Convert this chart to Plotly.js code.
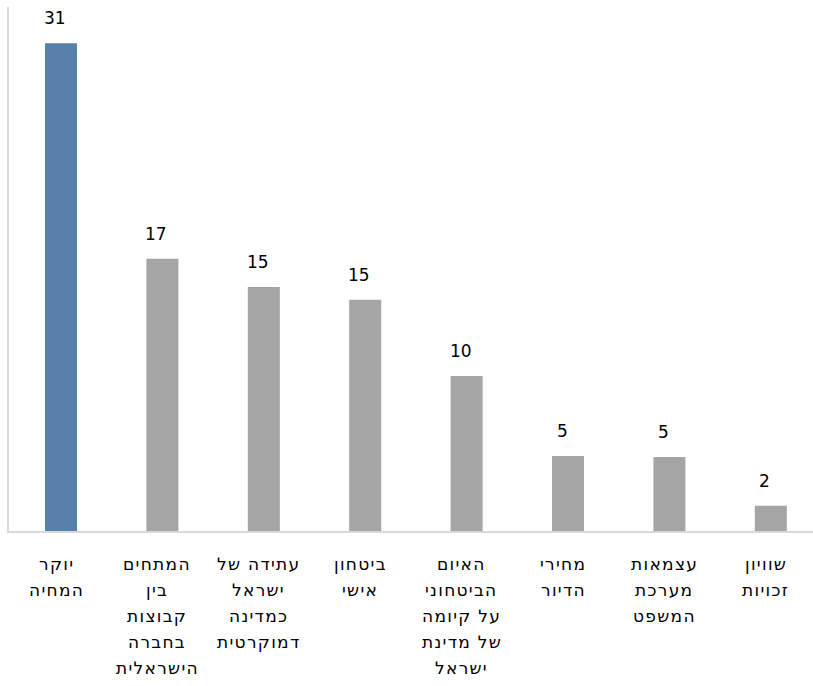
<!DOCTYPE html>
<html>
<head>
<meta charset="utf-8">
<script src="https://cdn.plot.ly/plotly-3.0.1.min.js"></script>
<style>
html,body{margin:0;padding:0;background:#fff;overflow:hidden}
text.annotation-text[style*="Noto"]{letter-spacing:1.3px}
</style>
</head>
<body>
<div id="chart" style="width:813px;height:686px"></div>
<script>
// Category labels (lines separated by "|")
const categories = [
  "יוקר|המחיה",
  "המתחים|בין|קבוצות|בחברה|הישראלית",
  "עתידה של|ישראל|כמדינה|דמוקרטית",
  "ביטחון|אישי",
  "האיום|הביטחוני|על קיומה|של מדינת|ישראל",
  "מחירי|הדיור",
  "עצמאות|מערכת|המשפט",
  "שוויון|זכויות"
];
// Bar values
const values = [31, 17.3, 15.5, 14.7, 9.85, 4.76, 4.7, 1.6];
// Data labels shown above the bars
const valueLabels = ["31", "17", "15", "15", "10", "5", "5", "2"];
const barColors = ["#5781a9", "#a5a5a5", "#a5a5a5", "#a5a5a5", "#a5a5a5", "#a5a5a5", "#a5a5a5", "#a5a5a5"];

const FONT = "DejaVu Sans, Verdana, sans-serif";
const HFONT = "DejaVu Sans, Noto Sans, sans-serif";

const trace = {
  type: "bar",
  x: categories,
  y: values,
  width: 0.3156,
  marker: {color: barColors, line: {width: 0}},
  hoverinfo: "none"
};

const annotations = [];
categories.forEach((c, i) => {
  annotations.push({
    x: c, y: values[i], xref: "x", yref: "y",
    text: valueLabels[i], showarrow: false,
    xanchor: "center", yanchor: "bottom", xshift: -6, yshift: 13,
    font: {family: FONT, size: 17, color: "#000"}
  });
  c.split("|").forEach((line, j) => {
    annotations.push({
      x: c, y: 0, xref: "x", yref: "paper",
      text: line, showarrow: false,
      xanchor: "center", yanchor: "top", xshift: -5, yshift: -21 - j * 26,
      font: {family: HFONT, size: 17, color: "#000"}
    });
  });
});

const layout = {
  width: 813, height: 686,
  margin: {l: 9, r: 0, t: 7, b: 155, pad: 0},
  paper_bgcolor: "#fff", plot_bgcolor: "#fff",
  showlegend: false,
  xaxis: {
    type: "category",
    range: [-0.513, 7.416],
    showticklabels: false, ticks: "",
    showgrid: false, zeroline: false,
    showline: true, linecolor: "#d9d9d9", linewidth: 2
  },
  yaxis: {
    range: [0, 33.3],
    showticklabels: false, ticks: "",
    showgrid: false, zeroline: false,
    showline: true, linecolor: "#d9d9d9", linewidth: 2
  },
  annotations: annotations,
  font: {family: FONT}
};

Plotly.newPlot("chart", [trace], layout, {displayModeBar: false, staticPlot: true});
</script>
</body>
</html>
